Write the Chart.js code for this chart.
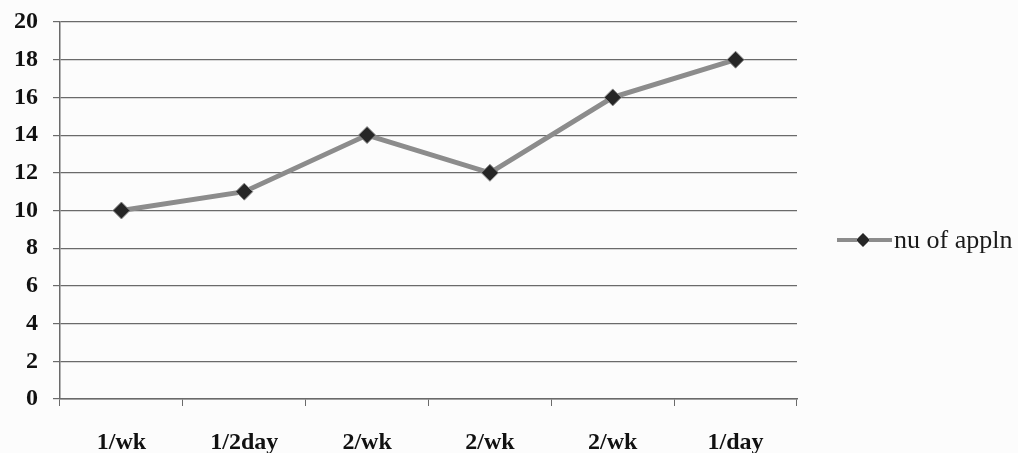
<!DOCTYPE html>
<html>
<head>
<meta charset="utf-8">
<script src="https://cdn.jsdelivr.net/npm/chart.js@4"></script>
<style>
  html, body { margin: 0; padding: 0; background: #fcfcfc; }
  #wrap { width: 1018px; height: 453px; position: relative; }
</style>
</head>
<body>
<div id="wrap"><canvas id="c" width="1018" height="453"></canvas></div>
<script>
// Application frequency categories and counts
const categories = ['1/wk', '1/2day', '2/wk', '2/wk', '2/wk', '1/day'];
const seriesName = 'nu of appln';
const values = [10, 11, 14, 12, 16, 18];
const yTicks = [0, 2, 4, 6, 8, 10, 12, 14, 16, 18, 20];

const SERIF = '"Liberation Serif", "DejaVu Serif", serif';
const LINE_COLOR = '#8c8c8c';
const MARKER_FILL = '#262626';
const GRID_COLOR = '#6a6a6a';

// Legend drawn at the right: a short line with a diamond, then the series name
const sideLegend = {
  id: 'sideLegend',
  afterDraw(chart) {
    const ctx = chart.ctx;
    const y = 240;
    const x0 = 837, x1 = 892;
    ctx.save();
    ctx.strokeStyle = LINE_COLOR;
    ctx.lineWidth = 4;
    ctx.beginPath();
    ctx.moveTo(x0, y);
    ctx.lineTo(x1, y);
    ctx.stroke();
    const cx = 863, r = 7;
    ctx.fillStyle = MARKER_FILL;
    ctx.strokeStyle = LINE_COLOR;
    ctx.lineWidth = 1;
    ctx.beginPath();
    ctx.moveTo(cx, y - r);
    ctx.lineTo(cx + r, y);
    ctx.lineTo(cx, y + r);
    ctx.lineTo(cx - r, y);
    ctx.closePath();
    ctx.fill();
    ctx.stroke();
    ctx.fillStyle = '#1a1a1a';
    ctx.font = '26px ' + SERIF;
    ctx.textBaseline = 'middle';
    ctx.textAlign = 'left';
    ctx.fillText(seriesName, x1 + 2, y + 1);
    ctx.restore();
  }
};

new Chart(document.getElementById('c'), {
  type: 'line',
  data: {
    labels: categories,
    datasets: [{
      label: seriesName,
      data: values,
      borderColor: LINE_COLOR,
      borderWidth: 5,
      pointStyle: 'rectRot',
      pointRadius: 8.5,
      pointBackgroundColor: MARKER_FILL,
      pointBorderColor: LINE_COLOR,
      pointBorderWidth: 1,
      tension: 0
    }]
  },
  options: {
    responsive: false,
    animation: false,
    layout: { padding: { left: 0, right: 221, top: 22, bottom: 0 } },
    plugins: { legend: { display: false }, tooltip: { enabled: false } },
    scales: {
      x: {
        offset: true,
        grid: {
          offset: true,
          drawOnChartArea: false,
          drawTicks: true,
          tickLength: 7,
          color: GRID_COLOR,
          lineWidth: 1
        },
        border: { color: GRID_COLOR, width: 1.5 },
        ticks: {
          color: '#111',
          font: { family: SERIF, size: 24, weight: 'bold' },
          padding: 22,
          maxRotation: 0,
          autoSkip: false
        },
        afterFit(scale) {
          scale.height = 54;
          scale.paddingLeft = 0;
          scale.paddingRight = 0;
        }
      },
      y: {
        min: 0,
        max: 20,
        afterBuildTicks(scale) { scale.ticks = yTicks.map(v => ({ value: v })); },
        grid: {
          color: GRID_COLOR,
          lineWidth: 1.2,
          drawTicks: true,
          tickLength: 7
        },
        border: { color: GRID_COLOR, width: 1.5 },
        ticks: {
          color: '#111',
          font: { family: SERIF, size: 24, weight: 'bold' },
          padding: 15
        },
        afterFit(scale) {
          scale.width = 60;
          scale.paddingTop = 0;
          scale.paddingBottom = 0;
        }
      }
    }
  },
  plugins: [sideLegend]
});
</script>
</body>
</html>
